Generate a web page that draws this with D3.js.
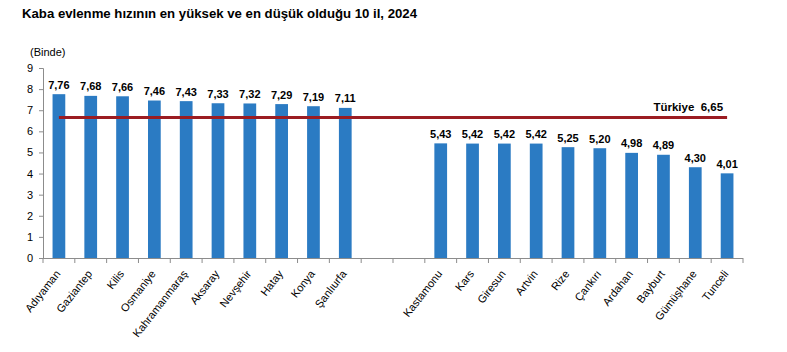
<!DOCTYPE html>
<html><head><meta charset="utf-8">
<script src="https://cdn.jsdelivr.net/npm/d3@7"></script>
<style>body{margin:0;background:#fff;font-family:Arial,"Liberation Sans",sans-serif;}</style>
</head><body><svg id="c" width="787" height="352"></svg>
<script>
const categories = ["Adıyaman","Gaziantep","Kilis","Osmaniye","Kahramanmaraş","Aksaray","Nevşehir","Hatay","Konya","Şanlıurfa","","_","Kastamonu","Kars","Giresun","Artvin","Rize","Çankırı","Ardahan","Bayburt","Gümüşhane","Tunceli"];
const values = [7.76,7.68,7.66,7.46,7.43,7.33,7.32,7.29,7.19,7.11,null,null,5.43,5.42,5.42,5.42,5.25,5.20,4.98,4.89,4.30,4.01];
const turkiye = 6.65;
const yTicks = [0,1,2,3,4,5,6,7,8,9];
const fmt = v => v.toFixed(2).replace(".", ",");

const svg = d3.select("#c");
const x = d3.scaleBand().domain(categories).range([43,743]).paddingInner(0.6).paddingOuter(0.3);
const y = d3.scaleLinear().domain([0,9]).range([258,68]);
const axisColor = "#8c8c8c";

svg.append("text").attr("x",22).attr("y",18).attr("font-size",13.2).attr("font-weight","bold").attr("fill","#000")
  .text("Kaba evlenme hızının en yüksek ve en düşük olduğu 10 il, 2024");
svg.append("text").attr("x",30).attr("y",56).attr("font-size",11).attr("fill","#000").text("(Binde)");

// y axis
const ya = svg.append("g").attr("transform","translate(43,0)").call(d3.axisLeft(y).tickValues(yTicks).tickSize(4).tickPadding(6));
ya.select(".domain").attr("stroke",axisColor);
ya.selectAll(".tick line").attr("stroke",axisColor);
ya.selectAll("text").attr("font-size",11).attr("font-family","Arial, Liberation Sans, sans-serif").attr("fill","#000");

// x axis with boundary ticks
const xg = svg.append("g");
xg.append("line").attr("x1",43).attr("x2",743).attr("y1",258.5).attr("y2",258.5).attr("stroke",axisColor);
const bounds = d3.range(categories.length+1).map(i => 43 + i*(700/categories.length));
xg.selectAll("line.t").data(bounds).join("line").attr("class","t")
  .attr("x1",d=>d).attr("x2",d=>d).attr("y1",258).attr("y2",263).attr("stroke",axisColor);

const data = categories.map((c,i)=>({c,v:values[i]})).filter(d=>d.v!=null);
svg.selectAll("rect.bar").data(data).join("rect").attr("class","bar")
  .attr("x",d=>x(d.c)).attr("width",x.bandwidth())
  .attr("y",d=>y(d.v)).attr("height",d=>y(0)-y(d.v)).attr("fill","#2B7BC3");

svg.selectAll("text.val").data(data).join("text").attr("class","val")
  .attr("x",d=>x(d.c)+x.bandwidth()/2).attr("y",d=>y(d.v)-5.5)
  .attr("text-anchor","middle").attr("font-size",11).attr("font-weight","bold").attr("fill","#000")
  .text(d=>fmt(d.v));

svg.selectAll("text.cat").data(data).join("text").attr("class","cat")
  .attr("transform",d=>`translate(${x(d.c)+x.bandwidth()/2+2},${274}) rotate(-52)`)
  .attr("text-anchor","end").attr("font-size",11).attr("fill","#000")
  .text(d=>d.c);

// Türkiye line
const first = data[0], last = data[data.length-1];
svg.append("line").attr("x1",x(first.c)+x.bandwidth()/2).attr("x2",x(last.c)+x.bandwidth()/2)
  .attr("y1",y(turkiye)).attr("y2",y(turkiye)).attr("stroke","#9B1C22").attr("stroke-width",3);
svg.append("text").attr("x",x(last.c)+x.bandwidth()/2-4).attr("y",y(turkiye)-7).attr("text-anchor","end")
  .attr("font-size",11.5).attr("font-weight","bold").attr("fill","#000").attr("xml:space","preserve")
  .text("Türkiye  " + fmt(turkiye));
</script></body></html>
